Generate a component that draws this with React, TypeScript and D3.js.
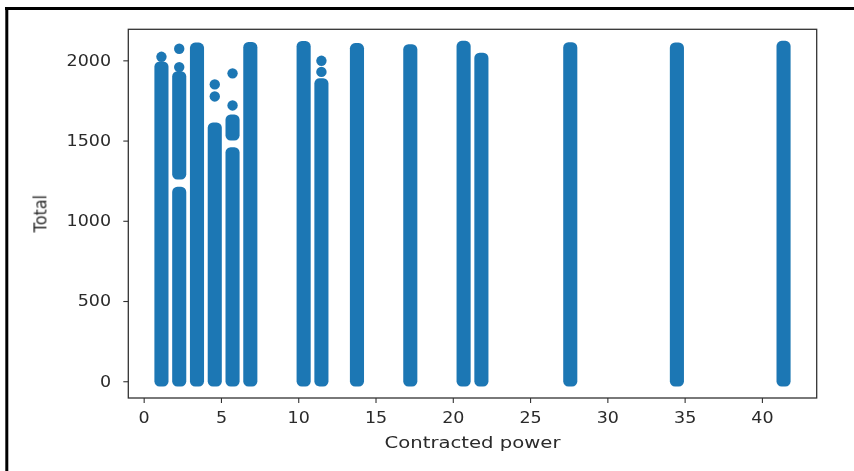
import * as d3 from 'd3'
import { useEffect, useRef } from "react";

// Contracted power levels (kW) - each one is a vertical column of points
const powers = [1.15, 2.3, 3.45, 4.6, 5.75, 6.9, 10.35, 11.5, 13.8, 17.25, 20.7, 21.85, 27.6, 34.5, 41.4];
// small spread of x values inside each column
const powerLow = [1.03, 2.18, 3.33, 4.48, 5.63, 6.78, 10.23, 11.38, 13.68, 17.13, 20.58, 21.73, 27.48, 34.38, 41.28];
const powerHigh = [1.27, 2.42, 3.57, 4.72, 5.87, 7.02, 10.47, 11.62, 13.92, 17.37, 20.82, 21.97, 27.72, 34.62, 41.52];

// continuous stacks of points (Total from .. to) per column
const totalRuns: number[][][] = [
    [[0, 1960]],
    [[0, 1180], [1290, 1900]],
    [[0, 2078]],
    [[0, 1580]],
    [[0, 1426], [1533, 1630]],
    [[0, 2082]],
    [[0, 2088]],
    [[0, 1856]],
    [[0, 2075]],
    [[0, 2068]],
    [[0, 2089]],
    [[0, 2015]],
    [[0, 2080]],
    [[0, 2079]],
    [[0, 2089]],
];

// single points sitting above the stacks
const outlierPower = [1.15, 2.3, 2.3, 4.6, 4.6, 5.75, 5.75, 11.5, 11.5];
const outlierTotal = [2022, 2072, 1958, 1850, 1775, 1919, 1719, 1997, 1928];

const xTicks = [0, 5, 10, 15, 20, 25, 30, 35, 40];
const yTicks = [0, 500, 1000, 1500, 2000];

export default function App() {
    const svgRef = useRef<SVGSVGElement>(null);

    const W = 854, H = 471;
    const margin = { top: 29.3, right: 854 - 816.7, bottom: 471 - 398, left: 128.3 };
    const r = 5.2;
    const blue = "#1f77b4";
    const stretch = 1.13;

    useEffect(() => {
        const svg = d3.select(svgRef.current);
        svg.selectAll("*").remove();

        const defs = svg.append("defs");
        defs.append("filter").attr("id", "soft")
            .append("feGaussianBlur").attr("stdDeviation", 0.5);

        // outer frame of the screenshot
        const frame = svg.append("g");
        frame.append("rect").attr("x", 5).attr("y", 7).attr("width", W - 5).attr("height", 3).attr("fill", "#000");
        frame.append("rect").attr("x", 5.3).attr("y", 7).attr("width", 3).attr("height", H - 7).attr("fill", "#000");

        const g = svg.append("g").attr("filter", "url(#soft)");

        const xMin = d3.min(powerLow) as number, xMax = d3.max(powerHigh) as number;
        const xPad = (xMax - xMin) * 0.05;
        const x = d3.scaleLinear().domain([xMin - xPad, xMax + xPad]).range([margin.left, W - margin.right]);

        const yMax = d3.max(totalRuns.flat().flat().concat(outlierTotal)) as number;
        const yPad = yMax * 0.05;
        const y = d3.scaleLinear().domain([-yPad, yMax + yPad]).range([H - margin.bottom, margin.top]);

        // stacks
        powers.forEach((p, i) => {
            g.selectAll(null)
                .data(totalRuns[i])
                .enter().append("rect")
                .attr("x", x(powerLow[i]) - r)
                .attr("width", x(powerHigh[i]) - x(powerLow[i]) + 2 * r)
                .attr("y", d => y(d[1]) - r)
                .attr("height", d => y(d[0]) - y(d[1]) + 2 * r)
                .attr("rx", r)
                .attr("fill", blue);
        });

        g.selectAll(".outlier")
            .data(outlierPower)
            .enter().append("circle")
            .attr("class", "outlier")
            .attr("cx", d => x(d))
            .attr("cy", (d, i) => y(outlierTotal[i]))
            .attr("r", r)
            .attr("fill", blue);

        // spines
        g.append("rect")
            .attr("x", margin.left).attr("y", margin.top)
            .attr("width", W - margin.right - margin.left)
            .attr("height", H - margin.bottom - margin.top)
            .attr("fill", "none").attr("stroke", "#333").attr("stroke-width", 1.3);

        const xAxis = g.append("g")
            .attr("transform", `translate(0,${H - margin.bottom})`)
            .call(d3.axisBottom(x).tickValues(xTicks).tickSize(5).tickPadding(9).tickFormat(d3.format("d")));
        const yAxis = g.append("g")
            .attr("transform", `translate(${margin.left},0)`)
            .call(d3.axisLeft(y).tickValues(yTicks).tickSize(5).tickPadding(10.3).tickFormat(d3.format("d")));

        [xAxis, yAxis].forEach(a => {
            a.select(".domain").remove();
            a.selectAll("line").attr("stroke", "#333").attr("stroke-width", 1.1);
            a.selectAll("text")
                .attr("fill", "#2a2a2a")
                .style("font-family", "DejaVu Sans")
                .style("font-size", "15.5px");
        });
        yAxis.selectAll("text").attr("transform", `scale(${stretch},1)`);
        xAxis.selectAll("text").attr("transform", `scale(${stretch},1)`);

        g.append("text")
            .attr("x", (margin.left + W - margin.right) / 2)
            .attr("y", 448)
            .attr("text-anchor", "middle")
            .attr("fill", "#2a2a2a")
            .attr("textLength", 176)
            .attr("lengthAdjust", "spacingAndGlyphs")
            .style("font-family", "DejaVu Sans")
            .style("font-size", "16px")
            .text("Contracted power");

        g.append("text")
            .attr("transform", `translate(46.5,${(margin.top + H - margin.bottom) / 2}) scale(${stretch},1) rotate(-90)`)
            .attr("text-anchor", "middle")
            .attr("fill", "#2a2a2a")
            .style("font-family", "DejaVu Sans")
            .style("font-size", "16px")
            .text("Total");
    }, []);

    return (
        <svg
            ref={svgRef}
            width={W}
            height={H}
            style={{ position: "absolute", left: 0, top: 0, background: "#fff" }}
        />
    );
}
